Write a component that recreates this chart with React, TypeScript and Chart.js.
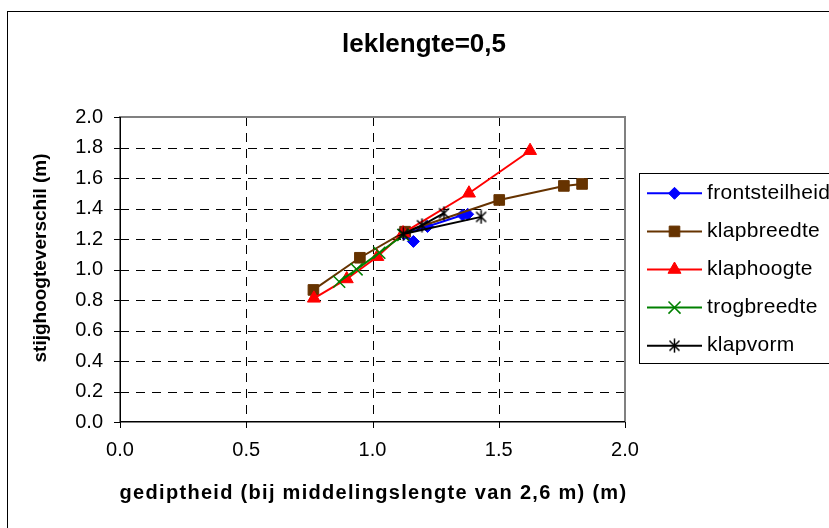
import React, { useEffect, useRef } from 'react';
import { Chart, registerables } from 'chart.js';
import { drawPoint } from 'chart.js/helpers';

Chart.register(...registerables);

const TITLE = 'leklengte=0,5';
const X_TITLE = 'gediptheid (bij middelingslengte van 2,6 m) (m)';
const Y_TITLE = 'stijghoogteverschil (m)';

const SERIES_NAMES = ['frontsteilheid', 'klapbreedte', 'klaphoogte', 'trogbreedte', 'klapvorm'];

const frontsteilheidX = [1.162, 1.125, 1.218, 1.357, 1.377];
const frontsteilheidY = [1.184, 1.232, 1.282, 1.357, 1.362];
const klapbreedteX = [0.766, 0.95, 1.129, 1.502, 1.758, 1.83];
const klapbreedteY = [0.866, 1.077, 1.248, 1.456, 1.548, 1.561];
const klaphoogteX = [0.768, 0.898, 1.019, 1.121, 1.382, 1.624];
const klaphoogteY = [0.811, 0.938, 1.084, 1.239, 1.5, 1.779];
const trogbreedteX = [0.868, 0.937, 1.027, 1.122];
const trogbreedteY = [0.92, 1.001, 1.11, 1.226];
const klapvormX = [1.43, 1.122, 1.196, 1.283];
const klapvormY = [1.345, 1.233, 1.29, 1.369];

const X_TICKS = [0, 0.5, 1.0, 1.5, 2.0];
const Y_TICKS = [0, 0.2, 0.4, 0.6, 0.8, 1.0, 1.2, 1.4, 1.6, 1.8, 2.0];

const SERIES_X = [frontsteilheidX, klapbreedteX, klaphoogteX, trogbreedteX, klapvormX];
const SERIES_Y = [frontsteilheidY, klapbreedteY, klaphoogteY, trogbreedteY, klapvormY];
const SERIES_COLORS = ['#0000FF', '#663300', '#FF0000', '#008000', '#000000'];

const FONT = '"Liberation Sans", Arial, sans-serif';

function makeAsterisk(): HTMLCanvasElement {
  const c = document.createElement('canvas');
  c.width = 15;
  c.height = 15;
  const g = c.getContext('2d')!;
  g.strokeStyle = '#000';
  g.lineWidth = 1.5;
  g.beginPath();
  g.moveTo(2.5, 2.5);
  g.lineTo(12.5, 12.5);
  g.moveTo(12.5, 2.5);
  g.lineTo(2.5, 12.5);
  g.moveTo(7.5, 0.5);
  g.lineTo(7.5, 14.5);
  g.stroke();
  return c;
}

const excelPlugin = {
  id: 'excelLook',
  beforeDraw(chart: any) {
    const ctx = chart.ctx;
    ctx.save();
    ctx.fillStyle = '#fff';
    ctx.fillRect(0, 0, chart.width, chart.height);
    ctx.restore();
  },
  beforeDatasetsDraw(chart: any) {
    const { ctx, chartArea: a } = chart;
    const xs = chart.scales.x;
    const ys = chart.scales.y;
    ctx.save();
    ctx.strokeStyle = '#000';
    ctx.lineWidth = 1;
    ctx.setLineDash([9, 7]);
    for (const v of Y_TICKS) {
      if (v <= Y_TICKS[0] || v >= Y_TICKS[Y_TICKS.length - 1]) continue;
      const py = Math.round(ys.getPixelForValue(v)) + 0.5;
      ctx.beginPath();
      ctx.moveTo(a.left, py);
      ctx.lineTo(a.right, py);
      ctx.stroke();
    }
    for (const v of X_TICKS) {
      if (v <= X_TICKS[0] || v >= X_TICKS[X_TICKS.length - 1]) continue;
      const px = Math.round(xs.getPixelForValue(v)) + 0.5;
      ctx.beginPath();
      ctx.moveTo(px, a.top);
      ctx.lineTo(px, a.bottom);
      ctx.stroke();
    }
    ctx.setLineDash([]);
    ctx.strokeStyle = '#808080';
    ctx.lineWidth = 2;
    ctx.strokeRect(a.left, a.top, a.right - a.left, a.bottom - a.top);
    ctx.strokeStyle = '#000';
    ctx.lineWidth = 1;
    ctx.beginPath();
    ctx.moveTo(a.left + 0.5, a.top);
    ctx.lineTo(a.left + 0.5, a.bottom);
    ctx.moveTo(a.left, a.bottom - 0.5);
    ctx.lineTo(a.right, a.bottom - 0.5);
    for (const v of Y_TICKS) {
      const py = Math.round(ys.getPixelForValue(v)) + 0.5;
      ctx.moveTo(a.left - 6, py);
      ctx.lineTo(a.left, py);
    }
    for (const v of X_TICKS) {
      const px = Math.round(xs.getPixelForValue(v)) + 0.5;
      ctx.moveTo(px, a.bottom);
      ctx.lineTo(px, a.bottom + 6);
    }
    ctx.stroke();
    ctx.restore();
  },
  afterDraw(chart: any) {
    const ctx = chart.ctx;
    const a = chart.chartArea;
    ctx.save();
    // outer frame
    ctx.strokeStyle = '#000';
    ctx.lineWidth = 1;
    ctx.strokeRect(7.5, 11.5, 900, 600);
    // title
    ctx.fillStyle = '#000';
    ctx.font = `bold 26px ${FONT}`;
    ctx.textAlign = 'center';
    ctx.textBaseline = 'alphabetic';
    ctx.fillText(TITLE, 424, 52);
    // x title
    ctx.font = `bold 20px ${FONT}`;
    (ctx as any).letterSpacing = '1.3px';
    ctx.fillText(X_TITLE, (a.left + a.right) / 2 + 1, 499);
    (ctx as any).letterSpacing = '0px';
    // y title
    ctx.save();
    ctx.translate(46, 258);
    ctx.rotate(-Math.PI / 2);
    ctx.font = `bold 19px ${FONT}`;
    ctx.fillText(Y_TITLE, 0, 0);
    ctx.restore();
    // legend
    ctx.strokeStyle = '#000';
    ctx.lineWidth = 1;
    ctx.strokeRect(639.5, 173.5, 400, 190);
    const ly0 = 193.3;
    const step = 38.1;
    chart.data.datasets.forEach((ds: any, i: number) => {
      const yy = ly0 + i * step;
      ctx.strokeStyle = ds.borderColor;
      ctx.lineWidth = ds.borderWidth;
      ctx.beginPath();
      ctx.moveTo(647, yy);
      ctx.lineTo(702, yy);
      ctx.stroke();
      ctx.fillStyle = ds.pointBackgroundColor;
      ctx.strokeStyle = ds.pointBorderColor;
      ctx.lineWidth = ds.pointBorderWidth;
      drawPoint(ctx, { pointStyle: ds.pointStyle, radius: ds.pointRadius, borderWidth: ds.pointBorderWidth, rotation: 0 } as any, 674.5, yy);
      ctx.fillStyle = '#000';
      ctx.font = `21px ${FONT}`;
      (ctx as any).letterSpacing = '0.3px';
      ctx.textAlign = 'left';
      ctx.textBaseline = 'middle';
      ctx.fillText(ds.label, 707, yy);
      (ctx as any).letterSpacing = '0px';
    });
    ctx.restore();
  },
};

export default function App() {
  const ref = useRef<HTMLCanvasElement>(null);
  useEffect(() => {
    const canvas = ref.current!;
    const asterisk = makeAsterisk();
    const styles: any[] = ['rectRot', 'rect', 'triangle', 'crossRot', asterisk];
    const radii = [6, 7.5, 7.5, 8.5, 7.5];
    const borderW = [1, 1, 1, 1.5, 1.5];
    const datasets = SERIES_NAMES.map((name, i) => ({
      label: name,
      data: SERIES_X[i].map((x, j) => ({ x, y: SERIES_Y[i][j] })),
      showLine: true,
      borderColor: SERIES_COLORS[i],
      backgroundColor: SERIES_COLORS[i],
      borderWidth: 2,
      pointStyle: styles[i],
      pointRadius: radii[i],
      pointHoverRadius: radii[i],
      pointBorderWidth: borderW[i],
      pointBackgroundColor: SERIES_COLORS[i],
      pointBorderColor: SERIES_COLORS[i],
      order: SERIES_NAMES.length - i,
      tension: 0,
    }));
    const tickFont = { family: FONT, size: 20 };
    const chart = new Chart(canvas, {
      type: 'scatter',
      data: { datasets },
      options: {
        responsive: false,
        animation: false,
        devicePixelRatio: 1,
        events: [],
        layout: { padding: { left: 0, top: 117, right: 204, bottom: 0 } },
        plugins: {
          legend: { display: false },
          title: { display: false },
          tooltip: { enabled: false },
        },
        scales: {
          x: {
            type: 'linear',
            min: X_TICKS[0],
            max: X_TICKS[X_TICKS.length - 1],
            afterFit: (s: any) => { s.height = 106; },
            afterBuildTicks: (s: any) => { s.ticks = X_TICKS.map((v) => ({ value: v })); },
            ticks: {
              padding: 16.5,
              font: tickFont,
              color: '#000',
              maxRotation: 0,
              autoSkip: false,
              callback: (v: any) => Number(v).toFixed(1),
            },
            grid: { display: false, drawTicks: false },
            border: { display: false },
          },
          y: {
            type: 'linear',
            min: Y_TICKS[0],
            max: Y_TICKS[Y_TICKS.length - 1],
            afterFit: (s: any) => { s.width = 120; },
            afterBuildTicks: (s: any) => { s.ticks = Y_TICKS.map((v) => ({ value: v })); },
            ticks: {
              padding: 17,
              font: tickFont,
              color: '#000',
              autoSkip: false,
              callback: (v: any) => Number(v).toFixed(1),
            },
            grid: { display: false, drawTicks: false },
            border: { display: false },
          },
        },
      },
      plugins: [excelPlugin],
    } as any);
    return () => chart.destroy();
  }, []);
  return (
    <div style={{ position: 'fixed', left: 0, top: 0, width: 829, height: 528, background: '#fff' }}>
      <canvas ref={ref} width={829} height={528} style={{ display: 'block', width: 829, height: 528 }} />
    </div>
  );
}
